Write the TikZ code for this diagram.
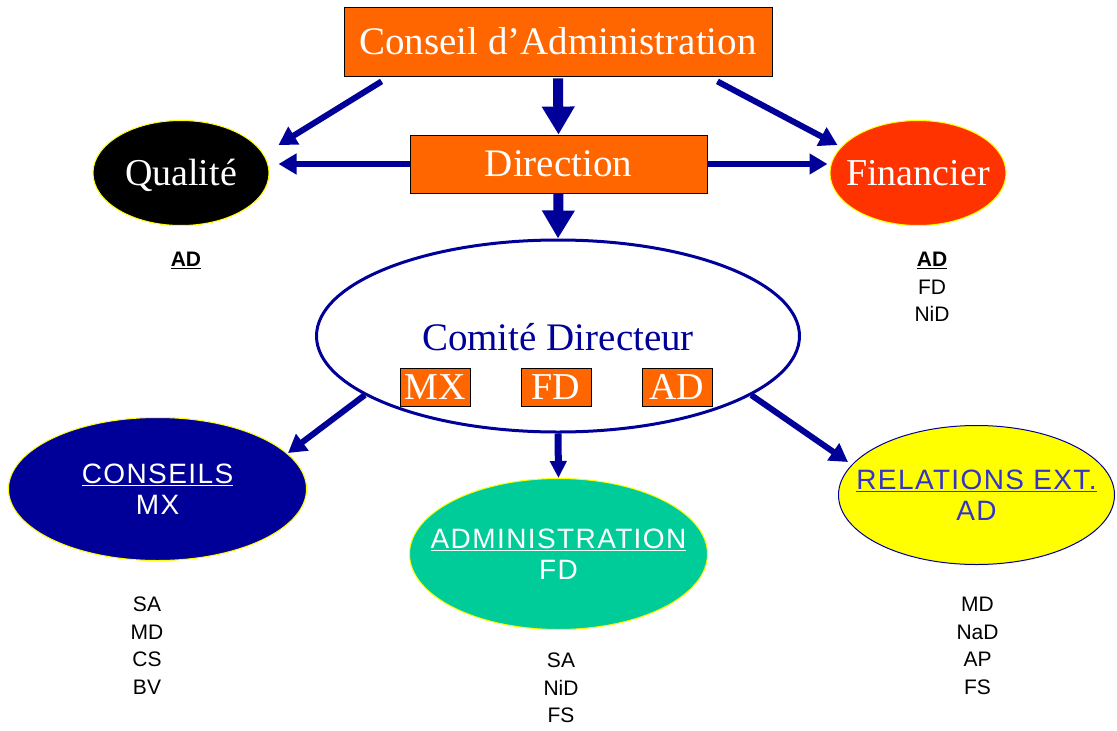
\documentclass[tikz,border=0pt]{standalone}
\usepackage{fontspec}
\setmainfont{Liberation Serif}
\newfontfamily\arialf{Liberation Sans}
\newfontfamily\arialsp[LetterSpace=5]{Liberation Sans}
\usetikzlibrary{arrows.meta,shapes.geometric}
\definecolor{orng}{HTML}{FF6600}
\definecolor{navy}{HTML}{000099}
\definecolor{finred}{HTML}{FF3300}
\definecolor{teal}{HTML}{00CC99}
\definecolor{yell}{HTML}{FFFF00}
\definecolor{relblue}{HTML}{3333CC}
\newcommand{\zb}[1]{\makebox[0pt]{#1}}
\begin{document}
\begin{tikzpicture}[x=1pt,y=-1pt,
  box/.style={rectangle,fill=orng,draw=black,line width=0.8pt,inner sep=0pt,text=white,
    font=\fontsize{39}{46}\selectfont,text height=25pt,text depth=0pt},
  topell/.style={ellipse,inner sep=0pt,draw=yell,line width=1pt,text=white,
    minimum width=176pt,minimum height=105pt,
    font=\fontsize{38}{46}\selectfont,text height=25pt,text depth=0pt},
  lowell/.style={ellipse,inner sep=0pt,line width=1pt,align=center,
    font=\arialsp\fontsize{28}{31}\selectfont},
  lab/.style={font=\arialf\fontsize{21}{27.5}\selectfont,align=center,inner sep=0pt,anchor=north},
  bigarr/.style={draw=navy,line width=10pt,-{Triangle[width=31pt,length=28pt]}},
  midarr/.style={draw=navy,line width=7pt,-{Triangle[width=16pt,length=17pt]}},
  arr/.style={draw=navy,line width=6pt,-{Triangle[width=20pt,length=18pt]}}]
\useasboundingbox (0,0) rectangle (1117,731);

% top boxes
\node[box,minimum width=428pt,minimum height=69pt] (conseil) at (558,41.5) {Conseil d’Administration};
\node[box,minimum width=297pt,minimum height=58pt] (direction) at (558.5,164) {Direction};

% side ellipses
\node[topell,fill=black] (qual) at (181,173) {\zb{Qualité}};
\node[topell,fill=finred] (fin) at (918,173) {\zb{Financier}};

% comite
\node[ellipse,draw=navy,line width=3pt,fill=white,minimum width=483pt,minimum height=192pt,inner sep=0pt] (comite) at (558,336) {};
\node[anchor=base,text=navy,font=\fontsize{39}{46}\selectfont,inner sep=0pt] (comitetxt) at (558,350) {Comité Directeur};
\node[box,minimum width=70pt,minimum height=38pt,font=\fontsize{38}{46}\selectfont] (mx) at (435,387) {MX};
\node[box,minimum width=70pt,minimum height=38pt,font=\fontsize{38}{46}\selectfont] (fd) at (556,387) {FD};
\node[box,minimum width=70pt,minimum height=38pt,font=\fontsize{38}{46}\selectfont] (ad) at (677,387) {AD};

% lower ellipses
\node[lowell,fill=navy,draw=yell,text=white,minimum width=298pt,minimum height=143pt] (conseils) at (157.5,489) {\zb{\underline{CONSEILS}}\\\zb{MX}};
\node[lowell,fill=teal,draw=yell,text=white,minimum width=298pt,minimum height=151pt] (admin) at (558.5,554) {\zb{\underline{ADMINISTRATION}}\\\zb{FD}};
\node[lowell,fill=yell,draw=navy,text=relblue,minimum width=276pt,minimum height=139pt] (rel) at (976.5,495) {\zb{\underline{RELATIONS EXT.}}\\\zb{AD}};

% labels
\node[lab] (qlab) at (186,252) {\textbf{\underline{AD}}};
\node[lab] (flab) at (932,252) {\textbf{\underline{AD}}\\FD\\NiD};
\node[lab] (clab) at (147,597) {SA\\MD\\CS\\BV};
\node[lab] (alab) at (561,653) {SA\\NiD\\FS};
\node[lab] (rlab) at (977.5,597) {MD\\NaD\\AP\\FS};

% connectors
\draw[bigarr] ([yshift=-2pt]conseil.south) -- (direction.north);
\draw[bigarr] (direction.south) -- (comite.north);
\draw[midarr] (comite.south) -- (admin.north);
\draw[arr] ([shift={(38,5)}]conseil.south west) -- ([shift={(9,-28)}]qual.east);
\draw[arr] ([shift={(-55,5)}]conseil.south east) -- ([shift={(8,-28)}]fin.west);
\draw[arr] (direction.west) -- ([shift={(9,-9)}]qual.east);
\draw[arr] (direction.east) -- ([shift={(-2,-9)}]fin.west);
\draw[arr] (comite.197) -- ([shift={(-19,-36)}]conseils.east);
\draw[arr] (comite.-17) -- ([shift={(10,-33)}]rel.west);
\end{tikzpicture}
\end{document}
